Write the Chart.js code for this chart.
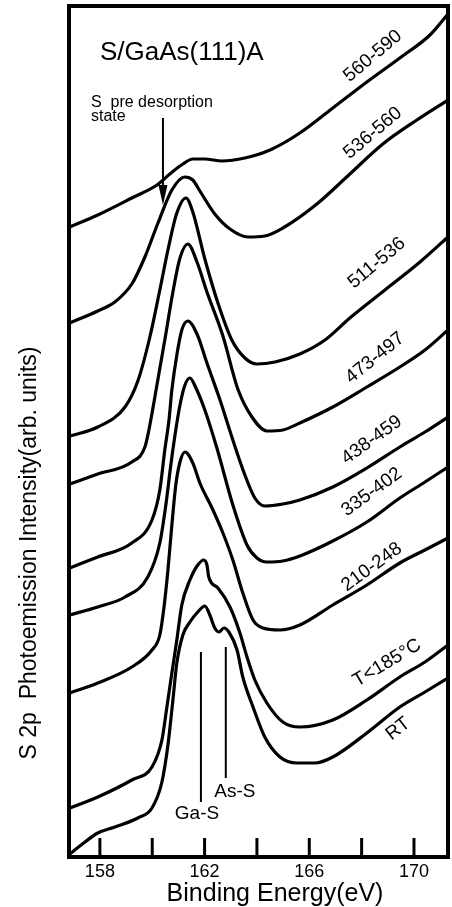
<!DOCTYPE html>
<html>
<head>
<meta charset="utf-8">
<script src="https://cdn.jsdelivr.net/npm/chart.js@4.4.1/dist/chart.umd.min.js"></script>
<style>
  html, body { margin: 0; padding: 0; background: #fff; }
  canvas { display: block; }
</style>
</head>
<body>
<canvas id="xpsChart" width="452" height="907"></canvas>
<script>
// Curvas S 2p: energia de enlace (eV) e intensidad (unidades arb.)
const curveLabels = ['560-590', '536-560', '511-536', '473-497', '438-459', '335-402', '210-248', 'T<185\u00B0C', 'RT'];

const e560 = [156.85, 157.92, 159.22, 160.18, 160.67, 161.17, 161.55, 162.01, 162.66, 163.54, 164.50, 165.64, 166.90, 168.20, 169.46, 170.61, 171.30];
const i560 = [630, 642, 659, 672, 683, 693, 698, 698, 696, 699, 707, 724, 749, 775, 799, 822, 843];

const e536 = [156.85, 157.92, 158.57, 159.22, 159.72, 160.22, 160.75, 161.25, 161.55, 161.82, 162.39, 162.97, 163.66, 164.30, 164.99, 166.29, 167.55, 168.81, 170.11, 171.30];
const i536 = [534, 546, 555, 573, 600, 634, 667, 680, 677, 666, 643, 628, 620, 621, 629, 653, 683, 713, 737, 757];

const e511 = [156.85, 157.92, 158.96, 159.45, 159.91, 160.29, 160.60, 160.94, 161.29, 161.55, 162.01, 162.51, 163.04, 163.54, 164.00, 164.69, 165.64, 166.60, 167.55, 168.89, 170.23, 171.30];
const i511 = [421, 430, 450, 476, 520, 567, 607, 644, 659, 645, 598, 554, 517, 499, 493, 495, 503, 517, 539, 567, 595, 620];

const e473 = [156.85, 157.92, 159.22, 159.72, 159.91, 160.18, 160.48, 160.79, 161.06, 161.36, 161.71, 162.09, 162.70, 163.27, 163.81, 164.38, 164.99, 165.64, 166.90, 168.20, 169.46, 170.42, 171.30];
const i473 = [373, 383, 395, 410, 432, 472, 517, 565, 599, 613, 595, 565, 521, 468, 440, 426, 427, 434, 450, 470, 490, 507, 527];

const e438 = [156.85, 157.92, 159.22, 159.99, 160.29, 160.48, 160.64, 160.75, 160.94, 161.13, 161.36, 161.71, 162.09, 162.59, 163.08, 163.54, 163.92, 164.30, 164.99, 165.64, 166.90, 168.20, 169.46, 170.42, 171.30];
const i438 = [289, 300, 314, 337, 367, 407, 437, 467, 502, 527, 536, 523, 494, 457, 417, 382, 359, 351, 353, 357, 370, 389, 410, 425, 440];

const e335 = [156.85, 157.92, 158.96, 159.83, 160.29, 160.52, 160.71, 160.87, 161.06, 161.25, 161.44, 161.67, 162.01, 162.47, 163.08, 163.62, 164.00, 164.38, 164.99, 165.64, 166.90, 168.20, 169.46, 170.42, 171.30];
const i335 = [242, 250, 260, 280, 314, 352, 392, 422, 452, 472, 479, 469, 447, 409, 352, 312, 299, 295, 296, 301, 316, 335, 359, 375, 390];

const e210 = [156.85, 157.92, 159.22, 159.99, 160.29, 160.45, 160.60, 160.75, 160.90, 161.06, 161.25, 161.55, 161.82, 162.32, 162.70, 163.08, 163.46, 163.85, 164.23, 164.88, 165.64, 166.90, 168.20, 169.46, 170.42, 171.30];
const i210 = [164, 174, 190, 207, 222, 250, 287, 332, 372, 395, 405, 394, 374, 347, 324, 297, 264, 237, 229, 227, 232, 252, 272, 294, 307, 319];

const eT185 = [156.85, 157.92, 159.22, 159.99, 160.37, 160.56, 160.75, 160.94, 161.13, 161.44, 161.74, 161.97, 162.09, 162.16, 162.51, 162.97, 163.35, 163.62, 163.92, 164.38, 164.99, 165.64, 166.90, 168.20, 169.46, 170.42, 171.30];
const iT185 = [49, 60, 77, 90, 117, 150, 184, 217, 252, 277, 292, 297, 292, 280, 269, 250, 224, 200, 177, 154, 135, 130, 137, 157, 180, 195, 212];

const eRT = [156.85, 157.43, 157.92, 158.57, 159.45, 159.99, 160.37, 160.60, 160.79, 160.94, 161.17, 161.44, 161.74, 162.01, 162.20, 162.39, 162.55, 162.74, 162.93, 163.24, 163.46, 163.85, 164.30, 164.88, 165.53, 166.22, 166.90, 168.20, 169.46, 170.42, 171.30];
const iRT = [3, 15, 24, 30, 39, 49, 75, 112, 157, 194, 222, 235, 245, 251, 242, 229, 225, 229, 225, 207, 180, 150, 120, 100, 94, 94, 100, 124, 150, 165, 179];

// Componentes Ga-S y As-S (energia y extension vertical de la marca)
const bondLabels = ['Ga-S', 'As-S'];
const bondEnergies = [161.86, 162.81];
const bondLow = [55, 79];
const bondHigh = [205, 210];

// Ticks del eje x
const xTicks = [158, 160, 162, 164, 166, 168, 170];
const xTickLabels = [158, 162, 166, 170];

const curveEnergies = [e560, e536, e511, e473, e438, e335, e210, eT185, eRT];
const curveIntensities = [i560, i536, i511, i473, i438, i335, i210, iT185, iRT];

// Posicion de las etiquetas de cada curva [eV, intensidad, angulo]
const labelPlacement = [
    [168.43, 801, -40],
    [168.43, 724, -40],
    [168.58, 594, -40],
    [168.51, 499, -39],
    [168.39, 417, -36],
    [168.39, 365, -36],
    [168.39, 290, -36],
    [168.97, 194, -31],
    [169.39, 128, -38]
];

const FONT = '"Liberation Sans", Arial, Helvetica, sans-serif';

const datasets = curveLabels.map((name, k) => ({
    label: name,
    data: curveEnergies[k].map((e, j) => ({ x: e, y: curveIntensities[k][j] })),
    borderColor: '#000',
    borderWidth: 3.2,
    pointRadius: 0,
    fill: false,
    cubicInterpolationMode: 'monotone'
}));

bondLabels.forEach((name, k) => {
    datasets.push({
        label: name,
        data: [{ x: bondEnergies[k], y: bondLow[k] }, { x: bondEnergies[k], y: bondHigh[k] }],
        borderColor: '#000',
        borderWidth: 2,
        pointRadius: 0,
        fill: false
    });
});

// Marco, ticks interiores y textos
const decorations = {
    id: 'decorations',
    afterDatasetsDraw(chart) {
        const { ctx, chartArea: a, scales: { x, y } } = chart;
        ctx.save();
        ctx.strokeStyle = '#000';
        ctx.fillStyle = '#000';

        // marco
        ctx.lineWidth = 4;
        ctx.strokeRect(a.left, a.top, a.right - a.left, a.bottom - a.top);

        // ticks hacia adentro
        ctx.lineWidth = 3;
        xTicks.forEach(v => {
            const px = x.getPixelForValue(v);
            ctx.beginPath();
            ctx.moveTo(px, a.bottom);
            ctx.lineTo(px, a.bottom - 19);
            ctx.stroke();
        });

        // etiquetas de las curvas
        ctx.font = '19px ' + FONT;
        ctx.textAlign = 'center';
        ctx.textBaseline = 'middle';
        curveLabels.forEach((txt, k) => {
            const [ev, h, ang] = labelPlacement[k];
            ctx.save();
            ctx.translate(x.getPixelForValue(ev), y.getPixelForValue(h));
            ctx.rotate(ang * Math.PI / 180);
            ctx.fillText(txt, 0, 0);
            ctx.restore();
        });

        // Ga-S / As-S
        ctx.textBaseline = 'alphabetic';
        ctx.fillText('Ga-S', x.getPixelForValue(161.71), y.getPixelForValue(38));
        ctx.fillText('As-S', x.getPixelForValue(163.16), y.getPixelForValue(60));

        // titulo interno
        ctx.font = '26px ' + FONT;
        ctx.textAlign = 'left';
        ctx.fillText('S/GaAs(111)A', x.getPixelForValue(158.0), y.getPixelForValue(797));

        // estado pre desorcion
        ctx.font = '16px ' + FONT;
        ctx.fillText('S  pre desorption', x.getPixelForValue(157.66), y.getPixelForValue(750));
        ctx.fillText('state', x.getPixelForValue(157.66), y.getPixelForValue(736));

        // flecha
        const ax = x.getPixelForValue(160.41);
        const ay0 = y.getPixelForValue(739);
        const ay1 = y.getPixelForValue(652);
        ctx.lineWidth = 2;
        ctx.beginPath();
        ctx.moveTo(ax, ay0);
        ctx.lineTo(ax, ay1 - 16);
        ctx.stroke();
        ctx.beginPath();
        ctx.moveTo(ax - 4.5, ay1 - 20);
        ctx.lineTo(ax + 4.5, ay1 - 20);
        ctx.lineTo(ax, ay1);
        ctx.closePath();
        ctx.fill();

        // titulos de ejes
        ctx.font = '25px ' + FONT;
        ctx.textAlign = 'center';
        ctx.fillText('Binding Energy(eV)', 275, 901);

        ctx.save();
        ctx.translate(30, 553);
        ctx.rotate(-Math.PI / 2);
        ctx.font = '23px ' + FONT;
        ctx.textBaseline = 'middle';
        ctx.fillText('S 2p  Photoemission Intensity(arb. units)', 0, 0);
        ctx.restore();

        ctx.restore();
    }
};

new Chart(document.getElementById('xpsChart').getContext('2d'), {
    type: 'line',
    data: { datasets: datasets },
    options: {
        responsive: false,
        animation: false,
        events: [],
        layout: { padding: { left: 69, right: 4, top: 6, bottom: 0 } },
        plugins: {
            legend: { display: false },
            tooltip: { enabled: false }
        },
        scales: {
            x: {
                type: 'linear',
                min: 156.82,
                max: 171.30,
                grid: { display: false, drawTicks: false },
                border: { display: false },
                afterBuildTicks(axis) {
                    axis.ticks = xTickLabels.map(v => ({ value: v }));
                },
                afterFit(axis) {
                    axis.height = 50;
                },
                ticks: {
                    autoSkip: false,
                    maxRotation: 0,
                    padding: 4,
                    color: '#000',
                    font: { family: FONT, size: 18 },
                    callback: v => String(v)
                }
            },
            y: {
                type: 'linear',
                display: false,
                min: 0,
                max: 851
            }
        }
    },
    plugins: [decorations]
});
</script>
</body>
</html>
